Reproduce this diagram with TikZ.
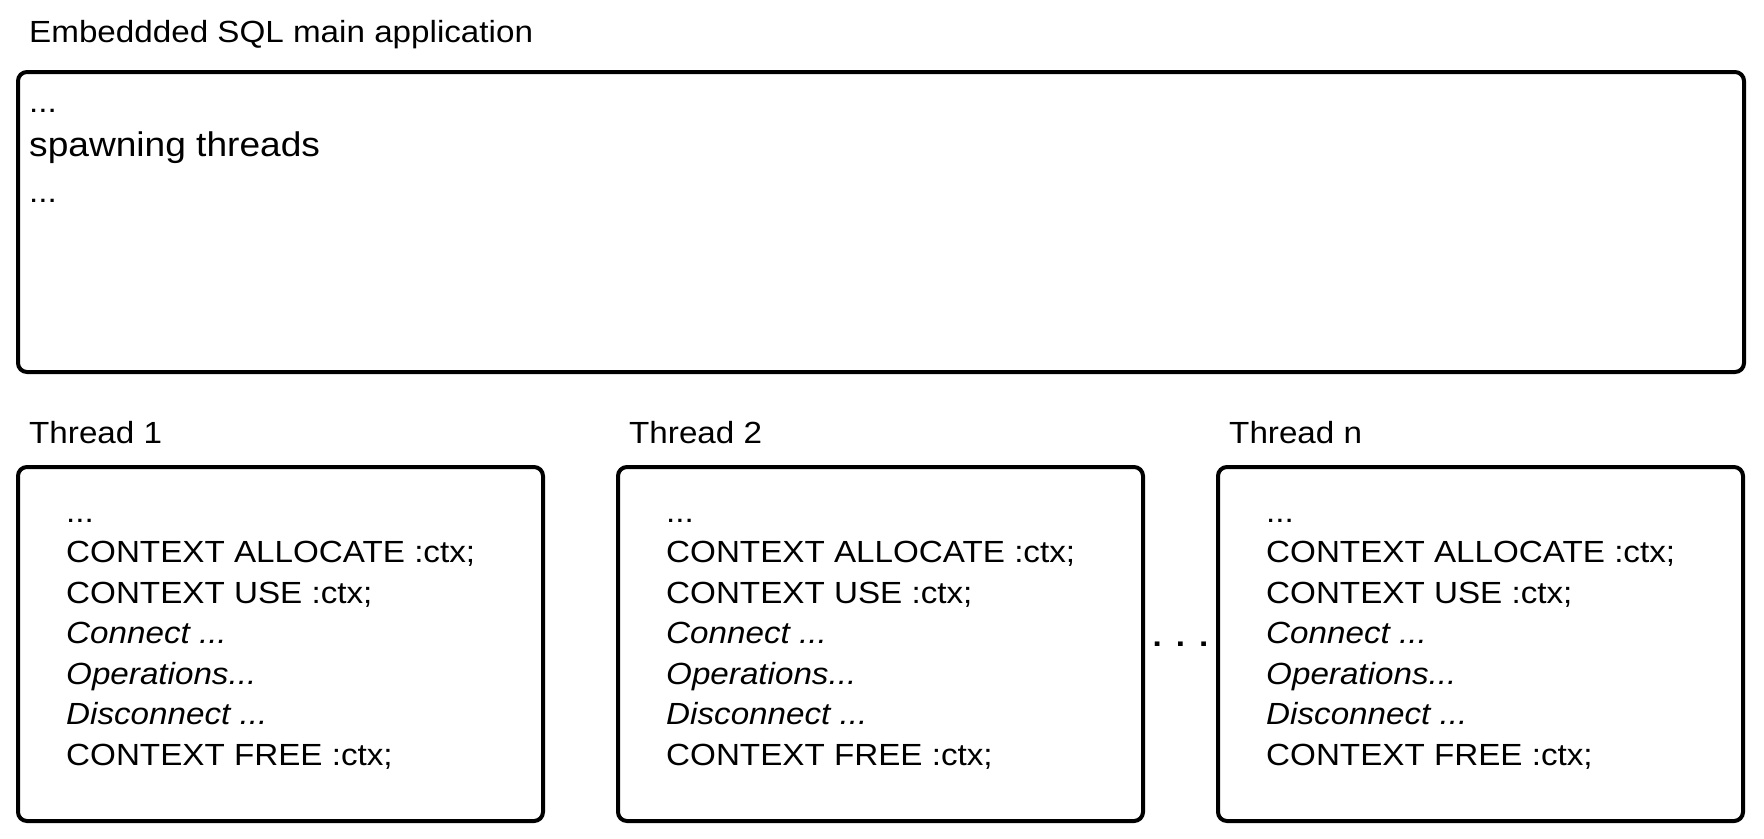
\documentclass[tikz,border=0pt]{standalone}
\usepackage{fontspec}
\setmainfont[FakeStretch=1.085]{Liberation Sans}
\usetikzlibrary{positioning}

\begin{document}
\begin{tikzpicture}[x=1pt,y=-1pt,
  box/.style={draw, line width=4pt, rounded corners=9pt, inner sep=0pt, outer sep=0pt},
  thread/.style={box, minimum width=525pt, minimum height=354pt},
  txt/.style={anchor=base west, inner sep=0pt, font=\fontsize{30.6}{36}\selectfont},
  big/.style={txt, font=\fontsize{34.2}{42}\selectfont},
  gapdots/.style={inner sep=0pt, font=\fontsize{30.6}{36}\selectfont\bfseries}]
\useasboundingbox (0,0) rectangle (1764,838);

% main application
\node[box, minimum width=1726pt, minimum height=300pt] (main) at (881,222) {};
\node[txt] (title) at ([shift={(11,-30)}]main.north west) {Embeddded SQL main application};
\node[txt] (m1) at ([shift={(11,40)}]main.north west) {...};
\node[big] (m2) at ([shift={(11,84)}]main.north west) {spawning threads};
\node[txt] (m3) at ([shift={(11,130)}]main.north west) {...};

% threads
\node[thread] (t1) at (280.5,644) {};
\node[thread, right=75pt of t1] (t2) {};
\node[thread, right=75pt of t2] (t3) {};

\foreach \t/\name in {t1/1, t2/2, t3/n}{
  \node[txt] (\t-lbl) at ([shift={(11,-24)}]\t.north west) {Thread \name};
  \node[txt] (\t-a) at ([shift={(48,55)}]\t.north west) {...};
  \node[txt] (\t-b) at ([shift={(48,95.5)}]\t.north west) {CONTEXT ALLOCATE :ctx;};
  \node[txt] (\t-c) at ([shift={(48,136)}]\t.north west) {CONTEXT USE :ctx;};
  \node[txt] (\t-d) at ([shift={(48,176.5)}]\t.north west) {\itshape Connect ...};
  \node[txt] (\t-e) at ([shift={(48,217)}]\t.north west) {\itshape Operations...};
  \node[txt] (\t-f) at ([shift={(48,257.5)}]\t.north west) {\itshape Disconnect ...};
  \node[txt] (\t-g) at ([shift={(48,298)}]\t.north west) {CONTEXT FREE :ctx;};
}

\path (t2.east) -- node[gapdots] (gap) {.\hspace{14pt}.\hspace{14pt}.} (t3.west);
\end{tikzpicture}
\end{document}
